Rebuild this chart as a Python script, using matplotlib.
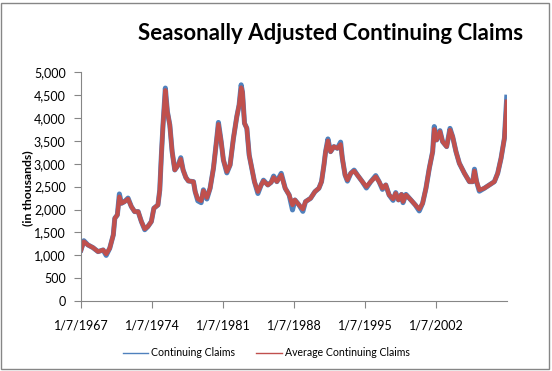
import pandas as pd
import matplotlib
matplotlib.use("Agg")
import matplotlib.pyplot as plt
from matplotlib.lines import Line2D
from matplotlib.patches import Rectangle
from matplotlib.ticker import FuncFormatter

# values (decimal year, claims in thousands)
years = [1967.02, 1967.3, 1967.7, 1968.2, 1968.7, 1969.2, 1969.5, 1969.85, 1970.2, 1970.35,
         1970.6, 1970.8, 1971.0, 1971.3, 1971.65, 1971.98, 1972.3, 1972.65, 1972.97, 1973.3,
         1973.6, 1973.95, 1974.2, 1974.6, 1974.78, 1974.94, 1975.1, 1975.33, 1975.53, 1975.77,
         1976.0, 1976.26, 1976.6, 1976.85, 1977.08, 1977.35, 1977.6, 1978.1, 1978.27, 1978.53,
         1978.86, 1979.08, 1979.42, 1979.74, 1980.07, 1980.4, 1980.56, 1980.83, 1981.05, 1981.39,
         1981.71, 1982.04, 1982.37, 1982.6, 1982.8, 1982.93, 1983.13, 1983.36, 1983.59, 1983.85,
         1984.11, 1984.45, 1984.77, 1985.0, 1985.43, 1985.76, 1986.0, 1986.32, 1986.75, 1987.14,
         1987.53, 1987.86, 1988.1, 1988.5, 1988.88, 1989.14, 1989.64, 1990.07, 1990.46, 1990.72,
         1990.96, 1991.12, 1991.35, 1991.61, 1991.94, 1992.28, 1992.6, 1992.77, 1993.04, 1993.27,
         1993.6, 1993.93, 1994.25, 1994.74, 1995.14, 1995.57, 1996.06, 1996.39, 1996.72, 1997.05,
         1997.38, 1997.77, 1998.03, 1998.3, 1998.6, 1998.75, 1999.04, 1999.53, 1999.96, 2000.35,
         2000.68, 2001.01, 2001.34, 2001.67, 2001.83, 2002.06, 2002.39, 2002.65, 2003.05, 2003.38,
         2003.64, 2003.97, 2004.3, 2004.8, 2005.29, 2005.62, 2005.79, 2006.0, 2006.27, 2006.76,
         2007.26, 2007.75, 2008.08, 2008.41, 2008.74, 2008.97]

claims = [1119, 1320, 1228, 1169, 1082, 1119, 1000, 1155, 1446, 1810,
          1882, 2340, 2136, 2172, 2250, 2064, 1955, 1955, 1737, 1560,
          1627, 1737, 2028, 2100, 2427, 3190, 3844, 4650, 4135, 3844,
          3262, 2863, 2972, 3130, 2863, 2700, 2623, 2608, 2390, 2190,
          2150, 2430, 2230, 2464, 2900, 3554, 3900, 3481, 3081, 2800,
          2972, 3554, 4026, 4281, 4720, 4560, 3881, 3772, 3190, 2900,
          2608, 2350, 2536, 2640, 2536, 2594, 2730, 2608, 2790, 2464,
          2318, 1991, 2209, 2100, 1960, 2172, 2245, 2390, 2464, 2608,
          2972, 3262, 3540, 3262, 3372, 3336, 3470, 3118, 2754, 2620,
          2791, 2860, 2754, 2608, 2470, 2608, 2740, 2608, 2440, 2536,
          2318, 2200, 2370, 2209, 2330, 2150, 2330, 2209, 2100, 1970,
          2136, 2464, 2900, 3262, 3810, 3517, 3720, 3481, 3372, 3770,
          3590, 3262, 3009, 2791, 2608, 2608, 2880, 2608, 2400, 2464,
          2536, 2608, 2791, 3118, 3554, 4450]

avg_claims = [1119, 1300, 1228, 1169, 1082, 1119, 1030, 1155, 1446, 1810,
              1882, 2280, 2136, 2172, 2230, 2064, 1955, 1955, 1737, 1577,
              1627, 1737, 2028, 2100, 2427, 3190, 3844, 4600, 4135, 3844,
              3262, 2863, 2972, 3100, 2863, 2700, 2623, 2608, 2390, 2230,
              2190, 2410, 2260, 2464, 2900, 3554, 3860, 3481, 3081, 2827,
              2972, 3554, 4026, 4281, 4660, 4560, 3881, 3772, 3190, 2900,
              2608, 2390, 2536, 2623, 2536, 2594, 2700, 2608, 2754, 2464,
              2318, 2100, 2209, 2100, 2010, 2172, 2245, 2390, 2464, 2608,
              2972, 3262, 3500, 3262, 3372, 3336, 3420, 3118, 2754, 2645,
              2791, 2841, 2754, 2608, 2499, 2608, 2717, 2608, 2464, 2536,
              2318, 2231, 2355, 2209, 2330, 2172, 2318, 2209, 2100, 2010,
              2136, 2464, 2900, 3262, 3750, 3517, 3699, 3481, 3372, 3736,
              3590, 3262, 3009, 2791, 2608, 2608, 2841, 2608, 2427, 2464,
              2536, 2608, 2791, 3118, 3554, 4352]

tick_dates = ['1967-01-07', '1974-01-07', '1981-01-07', '1988-01-07', '1995-01-07', '2002-01-07']
tick_labels = ['1/7/1967', '1/7/1974', '1/7/1981', '1/7/1988', '1/7/1995', '1/7/2002']
y_ticks = list(range(0, 5001, 500))

# decimal years -> timestamps
def to_date(y):
    return pd.Timestamp('1967-01-01') + pd.Timedelta(days=(y - 1967) * 365.25)

dates = [to_date(y) for y in years]

plt.rcParams['font.family'] = ['Lato', 'DejaVu Sans']
grey = '#868686'
blue = '#4F81BD'
red = '#C0504D'

fig = plt.figure(figsize=(5.52, 3.71), dpi=100)
ax = fig.add_axes([0.1467, 0.188, 0.7713, 0.618])

ax.plot(dates, claims, color=blue, linewidth=3.6, solid_joinstyle='round')
ax.plot(dates, avg_claims, color=red, linewidth=3.1, solid_joinstyle='round')

ax.set_xlim(dates[0], dates[-1])
ax.set_ylim(0, 5000)
ax.set_yticks(y_ticks)
ax.yaxis.set_major_formatter(FuncFormatter(lambda v, p: f'{v:,.0f}'))
ax.set_xticks(pd.to_datetime(tick_dates))
ax.set_xticklabels(tick_labels)

for s in ['top', 'right']:
    ax.spines[s].set_visible(False)
for s in ['left', 'bottom']:
    ax.spines[s].set_color(grey)
ax.tick_params(direction='out', length=5, color=grey, labelsize=9)
ax.tick_params(axis='y', pad=6)
ax.tick_params(axis='x', pad=8)

fig.text(0.5996, 0.911, 'Seasonally Adjusted Continuing Claims', fontsize=16,
         fontweight='bold', ha='center', va='center')
fig.text(0.05, 0.493, '(in thousands)', fontsize=8.8, fontweight='bold',
         rotation=90, ha='center', va='center')

handles = [Line2D([], [], color=blue, lw=1), Line2D([], [], color=red, lw=1)]
fig.legend(handles, ['Continuing Claims', 'Average Continuing Claims'], loc='center',
           bbox_to_anchor=(0.482, 0.049), ncol=2, frameon=False, fontsize=7.6,
           handlelength=2.4, handletextpad=0.3, columnspacing=2.0)

fig.patches.append(Rectangle((0.002, 0.006), 0.993, 0.986, transform=fig.transFigure,
                             fill=False, edgecolor=grey, linewidth=1))

fig.savefig('out.png', dpi=100)
